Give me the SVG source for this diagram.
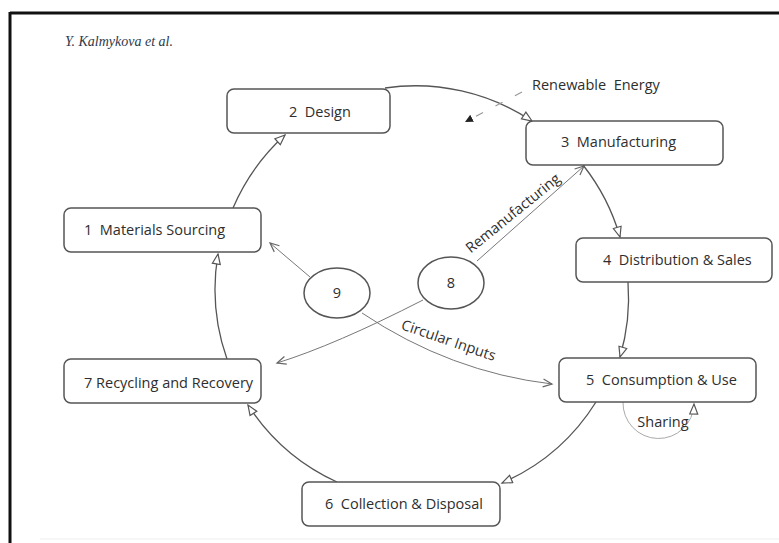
<svg xmlns="http://www.w3.org/2000/svg" width="779" height="543" viewBox="0 0 779 543">
<defs>
<style>
.box{fill:#fff;stroke:#555;stroke-width:1.5}
.lbl{font-family:"Open Sans","Liberation Sans",sans-serif;font-size:14.5px;fill:#2e2e2e;white-space:pre}
.conn{fill:none;stroke:#555;stroke-width:1.3}
.thin{fill:none;stroke:#777;stroke-width:1}
</style>
<marker id="hollow" markerUnits="userSpaceOnUse" markerWidth="14" markerHeight="12" refX="11" refY="5" orient="auto">
<path d="M1,1 L11,5 L1,9 z" fill="#fff" stroke="#555" stroke-width="1.2"/>
</marker>
<marker id="open" markerUnits="userSpaceOnUse" markerWidth="14" markerHeight="12" refX="10" refY="5" orient="auto">
<path d="M1,1 L10,5 L1,9" fill="none" stroke="#666" stroke-width="1.2"/>
</marker>
<marker id="filled" markerUnits="userSpaceOnUse" markerWidth="12" markerHeight="10" refX="8" refY="4" orient="auto">
<path d="M0,0 L8,4 L0,8 z" fill="#222"/>
</marker>
</defs>
<rect width="779" height="543" fill="#fff"/>
<g id="frame">
<line x1="10" y1="13" x2="779" y2="13" stroke="#111" stroke-width="3"/>
<line x1="10" y1="12" x2="10" y2="543" stroke="#111" stroke-width="3"/>
<line x1="40" y1="539" x2="779" y2="539" stroke="#eee" stroke-width="1"/>
<text x="65" y="46" font-family="'Liberation Serif',serif" font-style="italic" font-size="14" fill="#2d3a4a">Y. Kalmykova et al.</text>
</g>
<g id="connectors">
<path class="conn" d="M 233 208 A 210 210 0 0 1 285 135" marker-end="url(#hollow)"/>
<path class="conn" d="M 385 88 A 210 210 0 0 1 532 121" marker-end="url(#hollow)"/>
<path class="conn" d="M 583 165 A 210 210 0 0 1 620 237" marker-end="url(#hollow)"/>
<path class="conn" d="M 628 282 A 210 210 0 0 1 620 357" marker-end="url(#hollow)"/>
<path class="conn" d="M 596 402 A 210 210 0 0 1 502 483" marker-end="url(#hollow)"/>
<path class="conn" d="M 337 482 A 210 210 0 0 1 248 405" marker-end="url(#hollow)"/>
<path class="conn" d="M 227 359 A 210 210 0 0 1 218 254" marker-end="url(#hollow)"/>
<path class="thin" d="M 310 277 L 270 243" marker-end="url(#open)"/>
<path class="thin" d="M 362 313 Q 450 372 552 384" marker-end="url(#open)"/>
<path class="thin" d="M 423 300 Q 335 345 277 363" marker-end="url(#open)"/>
<path class="thin" d="M 477 261 L 584 166" marker-end="url(#open)"/>
<path d="M 522 92 L 465 122" fill="none" stroke="#999" stroke-width="1.2" stroke-dasharray="8 14" marker-end="url(#filled)"/>
<path d="M 623 402 A 35 35 0 0 0 694 404" fill="none" stroke="#aaa" stroke-width="1" marker-end="url(#hollow)"/>
<text class="lbl" x="532" y="90">Renewable&#160; Energy</text>
<text class="lbl" transform="translate(516,217) rotate(-39)" text-anchor="middle">Remanufacturing</text>
<text class="lbl" transform="translate(447,345) rotate(19)" text-anchor="middle">Circular Inputs</text>
<text class="lbl" x="663" y="427" text-anchor="middle">Sharing</text>
</g>
<g id="n1"><rect class="box" x="64" y="208" width="197" height="44" rx="7"/><text class="lbl" x="84" y="235">1&#160; Materials Sourcing</text></g>
<g id="n2"><rect class="box" x="227" y="89" width="163" height="44" rx="7"/><text class="lbl" x="289" y="117">2&#160; Design</text></g>
<g id="n3"><rect class="box" x="526" y="121" width="197" height="44" rx="7"/><text class="lbl" x="561" y="147">3&#160; Manufacturing</text></g>
<g id="n4"><rect class="box" x="576" y="238" width="196" height="44" rx="7"/><text class="lbl" x="603" y="265">4&#160; Distribution &amp; Sales</text></g>
<g id="n5"><rect class="box" x="559" y="358" width="197" height="44" rx="7"/><text class="lbl" x="586" y="385">5&#160; Consumption &amp; Use</text></g>
<g id="n6"><rect class="box" x="302" y="482" width="198" height="44" rx="7"/><text class="lbl" x="325" y="509">6&#160; Collection &amp; Disposal</text></g>
<g id="n7"><rect class="box" x="64" y="359" width="197" height="44" rx="7"/><text class="lbl" x="84" y="388">7 Recycling and Recovery</text></g>
<g id="n8"><ellipse class="box" cx="451" cy="283" rx="33" ry="26"/><text class="lbl" x="451" y="288" text-anchor="middle" font-size="15">8</text></g>
<g id="n9"><ellipse class="box" cx="337" cy="293" rx="33" ry="25"/><text class="lbl" x="337" y="298" text-anchor="middle" font-size="15">9</text></g>
</svg>
